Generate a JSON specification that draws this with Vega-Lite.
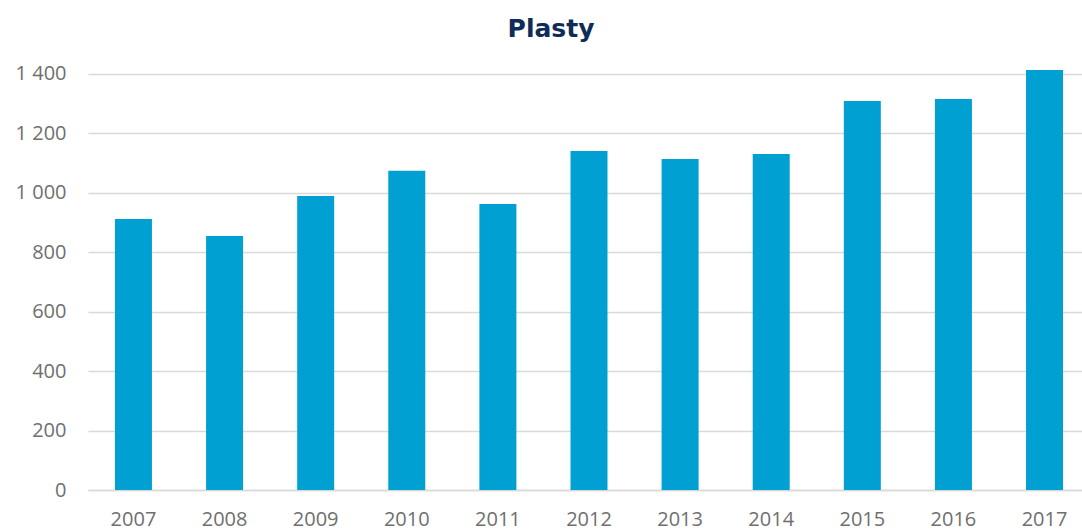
{
  "$schema": "https://vega.github.io/schema/vega-lite/v6.json",
  "autosize": {"type": "none"},
  "padding": {"left": 88, "top": 68, "right": -8, "bottom": 40},
  "width": 1002,
  "height": 422,
  "background": "white",
  "title": {
    "text": "Plasty",
    "font": "DejaVu Sans",
    "fontSize": 25,
    "fontWeight": "bold",
    "color": "#0f2b57",
    "anchor": "middle",
    "frame": "group",
    "dx": -38,
    "offset": 22
  },
  "data": {
    "values": [
      {"year": "2007", "value": 912},
      {"year": "2008", "value": 855},
      {"year": "2009", "value": 989},
      {"year": "2010", "value": 1074},
      {"year": "2011", "value": 962},
      {"year": "2012", "value": 1141},
      {"year": "2013", "value": 1114},
      {"year": "2014", "value": 1131},
      {"year": "2015", "value": 1309},
      {"year": "2016", "value": 1316},
      {"year": "2017", "value": 1413}
    ]
  },
  "mark": {"type": "bar", "color": "#00a0d2"},
  "encoding": {
    "x": {
      "field": "year",
      "type": "ordinal",
      "scale": {"paddingInner": 0.594, "paddingOuter": 0.296},
      "axis": {
        "title": null,
        "labelAngle": 0,
        "ticks": false,
        "domain": true,
        "domainColor": "#d9d9d9",
        "domainWidth": 1.5,
        "labelFont": "Open Sans",
        "labelFontSize": 20,
        "labelColor": "#6f6f6f",
        "labelPadding": 19
      }
    },
    "y": {
      "field": "value",
      "type": "quantitative",
      "scale": {"domain": [0, 1420], "nice": false},
      "axis": {
        "title": null,
        "values": [0, 200, 400, 600, 800, 1000, 1200, 1400],
        "labelExpr": "replace(format(datum.value, ','), ',', ' ')",
        "ticks": false,
        "domain": false,
        "grid": true,
        "gridColor": "#d9d9d9",
        "gridWidth": 1.5,
        "labelFont": "Open Sans",
        "labelFontSize": 20,
        "labelColor": "#6f6f6f",
        "labelPadding": 22
      }
    }
  },
  "config": {"view": {"stroke": null}}
}
